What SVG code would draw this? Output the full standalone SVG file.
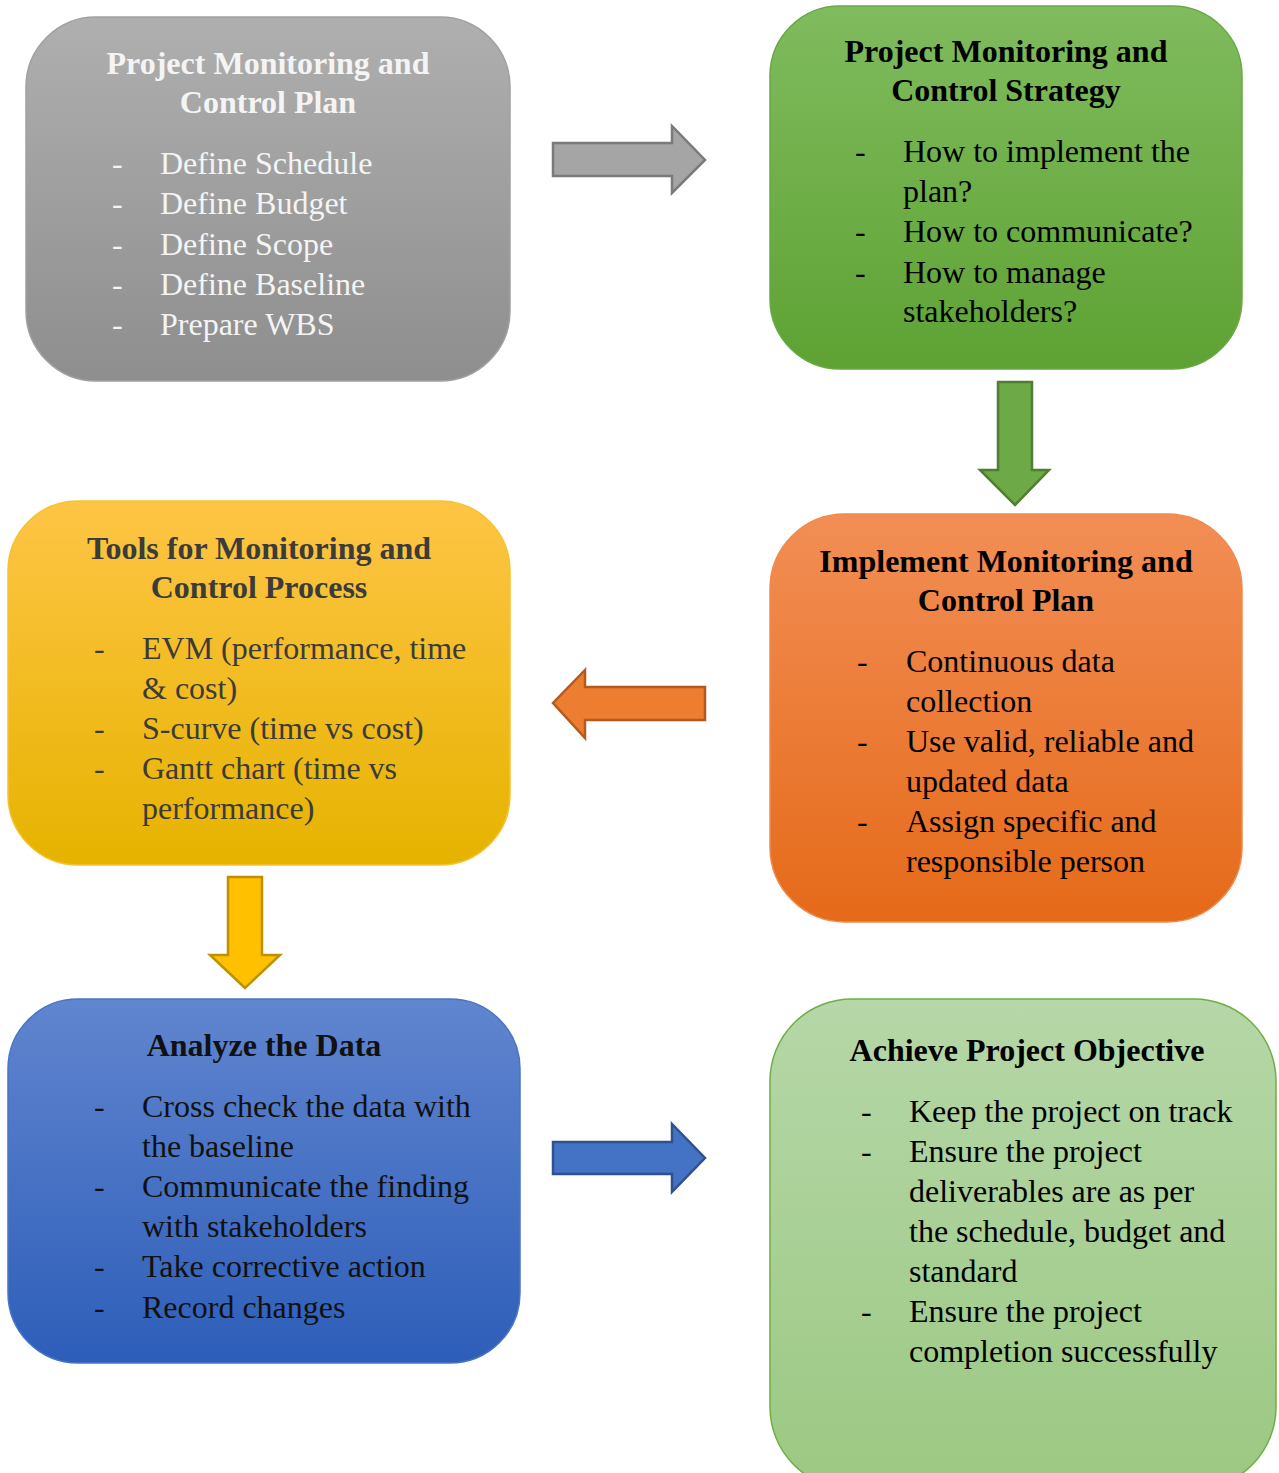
<svg xmlns="http://www.w3.org/2000/svg" width="1279" height="1473" viewBox="0 0 1279 1473">
<defs>
<linearGradient id="gGray" x1="0" y1="0" x2="0" y2="1"><stop offset="0" stop-color="#afafaf"/><stop offset="1" stop-color="#8e8e8e"/></linearGradient>
<linearGradient id="gGreen" x1="0" y1="0" x2="0" y2="1"><stop offset="0" stop-color="#80bb5e"/><stop offset="1" stop-color="#5ea233"/></linearGradient>
<linearGradient id="gOrange" x1="0" y1="0" x2="0" y2="1"><stop offset="0" stop-color="#f28e55"/><stop offset="1" stop-color="#e56a19"/></linearGradient>
<linearGradient id="gYellow" x1="0" y1="0" x2="0" y2="1"><stop offset="0" stop-color="#fec545"/><stop offset="1" stop-color="#e6b300"/></linearGradient>
<linearGradient id="gBlue" x1="0" y1="0" x2="0" y2="1"><stop offset="0" stop-color="#6185cf"/><stop offset="1" stop-color="#2d5eb9"/></linearGradient>
<linearGradient id="gLight" x1="0" y1="0" x2="0" y2="1"><stop offset="0" stop-color="#b6d7a8"/><stop offset="1" stop-color="#9bc882"/></linearGradient>
</defs>
<style>
text{font-family:"Liberation Serif","Times New Roman",serif;font-size:32px}
.t{font-weight:bold;text-anchor:middle}
.box{stroke-width:1.5}
.arrow{stroke-width:2.5;stroke-linejoin:miter}
</style>
<rect width="1279" height="1473" fill="#ffffff"/>

<g id="connectors">
<polygon class="arrow" fill="#a5a5a5" stroke="#7a7a7a" points="553,143 672,143 672,126 705,160 672,193 672,176 553,176"/>
<polygon class="arrow" fill="#6ea947" stroke="#4e7f30" points="998,382 1032,382 1032,470 1049,470 1015,505 980,470 998,470"/>
<polygon class="arrow" fill="#ed7d31" stroke="#b45a1c" points="705,687 705,720 585,720 585,738 553,703 585,670 585,687"/>
<polygon class="arrow" fill="#ffc000" stroke="#bf9000" points="228,877 262,877 262,955 280,955 245,988 210,955 228,955"/>
<polygon class="arrow" fill="#4472c4" stroke="#2f528f" points="553,1142 672,1142 672,1124 705,1158 672,1192 672,1174 553,1174"/>
</g>

<g id="node-plan">
<rect class="box" x="26" y="17" width="484" height="364" rx="70" ry="70" fill="url(#gGray)" stroke="#a0a0a0"/>
<g fill="#f4f4f4">
<text class="t" x="268" y="74">Project Monitoring and</text>
<text class="t" x="268" y="113">Control Plan</text>
<text x="112" y="174">-</text><text x="160" y="174">Define Schedule</text>
<text x="112" y="214">-</text><text x="160" y="214">Define Budget</text>
<text x="112" y="255">-</text><text x="160" y="255">Define Scope</text>
<text x="112" y="295">-</text><text x="160" y="295">Define Baseline</text>
<text x="112" y="335">-</text><text x="160" y="335">Prepare WBS</text>
</g>
</g>

<g id="node-strategy">
<rect class="box" x="770" y="6" width="472" height="363" rx="70" ry="70" fill="url(#gGreen)" stroke="#6aa845"/>
<g fill="#000000">
<text class="t" x="1006" y="62">Project Monitoring and</text>
<text class="t" x="1006" y="101">Control Strategy</text>
<text x="855" y="162">-</text><text x="903" y="162">How to implement the</text>
<text x="903" y="202">plan?</text>
<text x="855" y="242">-</text><text x="903" y="242">How to communicate?</text>
<text x="855" y="283">-</text><text x="903" y="283">How to manage</text>
<text x="903" y="322">stakeholders?</text>
</g>
</g>

<g id="node-implement">
<rect class="box" x="770" y="514" width="472" height="408" rx="75" ry="75" fill="url(#gOrange)" stroke="#ef8a4c"/>
<g fill="#000000">
<text class="t" x="1006" y="572">Implement Monitoring and</text>
<text class="t" x="1006" y="611">Control Plan</text>
<text x="857" y="672">-</text><text x="906" y="672">Continuous data</text>
<text x="906" y="712">collection</text>
<text x="857" y="752">-</text><text x="906" y="752">Use valid, reliable and</text>
<text x="906" y="792">updated data</text>
<text x="857" y="832">-</text><text x="906" y="832">Assign specific and</text>
<text x="906" y="872">responsible person</text>
</g>
</g>

<g id="node-tools">
<rect class="box" x="8" y="501" width="502" height="364" rx="70" ry="70" fill="url(#gYellow)" stroke="#f5c230"/>
<g fill="#3b3b3b">
<text class="t" x="259" y="559">Tools for Monitoring and</text>
<text class="t" x="259" y="598">Control Process</text>
<text x="94" y="659">-</text><text x="142" y="659">EVM (performance, time</text>
<text x="142" y="699">&amp; cost)</text>
<text x="94" y="739">-</text><text x="142" y="739">S-curve (time vs cost)</text>
<text x="94" y="779">-</text><text x="142" y="779">Gantt chart (time vs</text>
<text x="142" y="819">performance)</text>
</g>
</g>

<g id="node-analyze">
<rect class="box" x="8" y="999" width="512" height="364" rx="70" ry="70" fill="url(#gBlue)" stroke="#4a74c6"/>
<g fill="#111111">
<text class="t" x="264" y="1056">Analyze the Data</text>
<text x="94" y="1117">-</text><text x="142" y="1117">Cross check the data with</text>
<text x="142" y="1157">the baseline</text>
<text x="94" y="1197">-</text><text x="142" y="1197">Communicate the finding</text>
<text x="142" y="1237">with stakeholders</text>
<text x="94" y="1277">-</text><text x="142" y="1277">Take corrective action</text>
<text x="94" y="1318">-</text><text x="142" y="1318">Record changes</text>
</g>
</g>

<g id="node-objective">
<rect class="box" x="770" y="999" width="506" height="490" rx="82" ry="82" fill="url(#gLight)" stroke="#70ad47"/>
<g fill="#000000">
<text class="t" x="1027" y="1061">Achieve Project Objective</text>
<text x="861" y="1122">-</text><text x="909" y="1122">Keep the project on track</text>
<text x="861" y="1162">-</text><text x="909" y="1162">Ensure the project</text>
<text x="909" y="1202">deliverables are as per</text>
<text x="909" y="1242">the schedule, budget and</text>
<text x="909" y="1282">standard</text>
<text x="861" y="1322">-</text><text x="909" y="1322">Ensure the project</text>
<text x="909" y="1362">completion successfully</text>
</g>
</g>
</svg>
